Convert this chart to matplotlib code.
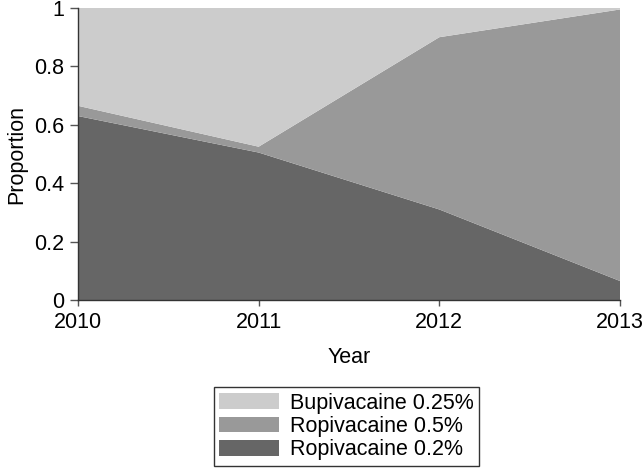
import matplotlib
matplotlib.use("Agg")
import matplotlib.pyplot as plt

plt.rcParams['font.family'] = ['Liberation Sans', 'DejaVu Sans']

years = [2010, 2011, 2012, 2013]
ropi_02 = [0.63, 0.505, 0.31, 0.065]
ropi_05 = [0.035, 0.02, 0.59, 0.93]
bupi_025 = [0.335, 0.475, 0.10, 0.005]

labels = ['Ropivacaine 0.2%', 'Ropivacaine 0.5%', 'Bupivacaine 0.25%']
colors = ['#666666', '#999999', '#cccccc']

fig = plt.figure(figsize=(6.44, 4.72), dpi=100)
ax = fig.add_axes([78/644, 1 - 300/472, (620 - 78)/644, (300 - 8)/472])

polys = ax.stackplot(years, ropi_02, ropi_05, bupi_025, labels=labels,
                     colors=colors, linewidth=0)

ax.set_xlim(2010, 2013)
ax.set_ylim(0, 1)
ax.set_xticks(years)
ax.set_yticks([0, 0.2, 0.4, 0.6, 0.8, 1])
ax.set_yticklabels(['0', '0.2', '0.4', '0.6', '0.8', '1'])
ax.tick_params(labelsize=15.5, direction='out', width=1, color='#555555')
ax.tick_params(axis='y', length=6, pad=4)
ax.tick_params(axis='x', length=4, pad=5)

for s in ['top', 'right']:
    ax.spines[s].set_visible(False)
for s in ['left', 'bottom']:
    ax.spines[s].set_color('#333333')
    ax.spines[s].set_linewidth(1)

ax.set_xlabel('Year', fontsize=15.5, labelpad=10)
ax.set_ylabel('Proportion', fontsize=15.5, labelpad=5)

handles, labs = ax.get_legend_handles_labels()
leg = fig.legend(handles[::-1], labs[::-1], loc='center',
                 bbox_to_anchor=(346.5/644, 1 - 426.5/472), fontsize=15.5,
                 frameon=True, fancybox=False, edgecolor='black',
                 handlelength=2.8, handleheight=0.75, labelspacing=0.1,
                 handletextpad=0.5, borderpad=0.25, borderaxespad=0)
leg.get_frame().set_linewidth(1)

fig.savefig('out.png', dpi=100)
